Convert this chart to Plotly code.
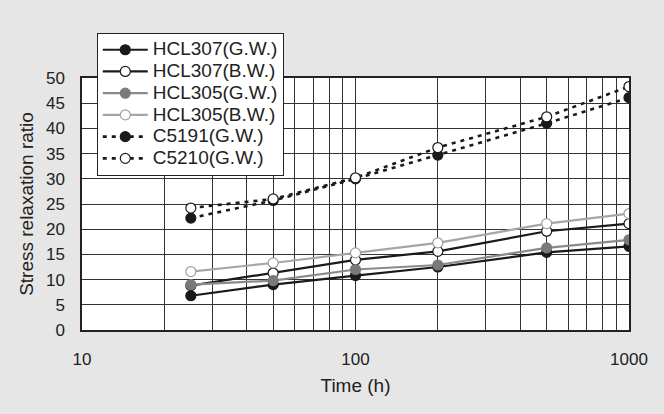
import plotly.graph_objects as go

time_h = [25, 50, 100, 200, 500, 1000]

hcl307_gw = [6.8, 9.0, 10.8, 12.5, 15.4, 16.6]
hcl307_bw = [8.8, 11.3, 13.9, 15.6, 19.6, 21.1]
hcl305_gw = [9.0, 9.8, 12.0, 12.9, 16.3, 17.9]
hcl305_bw = [11.6, 13.3, 15.3, 17.3, 21.1, 23.1]
c5191_gw = [22.2, 25.7, 30.0, 34.7, 41.0, 46.1]
c5210_gw = [24.2, 26.0, 30.2, 36.2, 42.3, 48.3]

x_tick_vals = [10, 100, 1000]
x_tick_text = ["10", "100", "1000"]
x_minor_vals = [20, 30, 40, 50, 60, 70, 80, 90, 200, 300, 400, 500, 600, 700, 800, 900]

FONT = "Liberation Sans, Arial, Helvetica, sans-serif"

series = [
    ("HCL307(G.W.)", hcl307_gw, "#1a1a1a", "#1a1a1a", "#1a1a1a", "solid"),
    ("HCL307(B.W.)", hcl307_bw, "#1a1a1a", "white", "#1a1a1a", "solid"),
    ("HCL305(G.W.)", hcl305_gw, "#8a8a8a", "#7a7a7a", "#7a7a7a", "solid"),
    ("HCL305(B.W.)", hcl305_bw, "#a6a6a6", "white", "#a0a0a0", "solid"),
    ("C5191(G.W.)", c5191_gw, "#1a1a1a", "#1a1a1a", "#1a1a1a", "4px,5px"),
    ("C5210(G.W.)", c5210_gw, "#1a1a1a", "white", "#1a1a1a", "4px,5px"),
]

fig = go.Figure()
for name, vals, lc, mfill, mline, dash in series:
    fig.add_trace(go.Scatter(
        x=time_h, y=vals,
        name='<span style="font-size:19px">' + name + '</span>',
        mode="lines+markers",
        line=dict(color=lc, width=2.2 if dash == "solid" else 2.6, dash=dash),
        marker=dict(symbol="circle", size=10, color=mfill,
                    line=dict(color=mline, width=1.2)),
    ))

fig.update_layout(
    width=664, height=414,
    margin=dict(l=82, r=35, t=78, b=84, autoexpand=False),
    paper_bgcolor="#e6e6e6",
    plot_bgcolor="white",
    font=dict(family=FONT, size=17, color="#222222"),
    showlegend=True,
    legend=dict(
        x=0.027, y=1.179, xanchor="left", yanchor="top",
        bgcolor="white", bordercolor="#222222", borderwidth=1,
        font=dict(size=14.4, color="#222222"),
        tracegroupgap=0, itemwidth=45,
    ),
    xaxis=dict(
        type="log", range=[1, 3], automargin=False,
        tickmode="array", tickvals=x_tick_vals, ticktext=x_tick_text,
        showgrid=True, gridcolor="#333333", gridwidth=1,
        minor=dict(tickmode="array", tickvals=x_minor_vals, showgrid=True,
                   gridcolor="#333333", gridwidth=1, ticks=""),
        showline=True, mirror=True, linecolor="#222222", linewidth=1.5,
        ticks="", ticklabelstandoff=13, zeroline=False,
        title=dict(text="Time (h)", font=dict(size=19), standoff=11),
    ),
    yaxis=dict(
        range=[0, 50], tickmode="linear", tick0=0, dtick=5, automargin=False,
        showgrid=True, gridcolor="#333333", gridwidth=1,
        showline=True, mirror=True, linecolor="#222222", linewidth=1.5,
        ticks="", ticklabelstandoff=12, zeroline=False,
        title=dict(text="Stress relaxation ratio", font=dict(size=19), standoff=7),
    ),
)

fig.write_html(
    "out.html",
    config={"displayModeBar": False},
    post_script="document.body.style.margin='0';document.body.style.background='#e6e6e6';document.body.style.overflow='hidden';",
)
